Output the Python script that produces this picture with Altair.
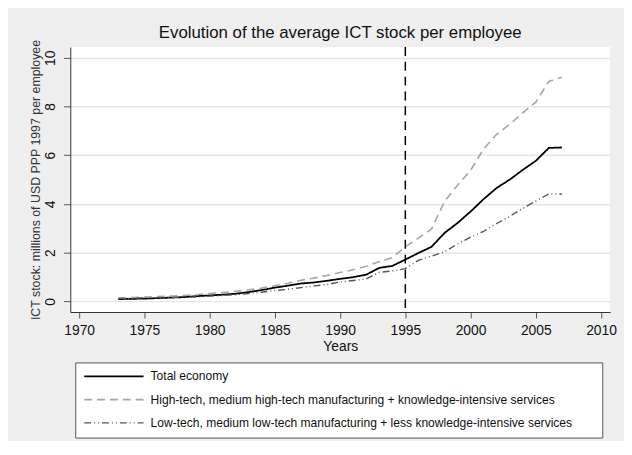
import altair as alt
import pandas as pd

years = list(range(1973, 2008))
total = [0.10, 0.11, 0.12, 0.14, 0.16, 0.18, 0.22, 0.25, 0.28, 0.32, 0.39, 0.47,
         0.57, 0.65, 0.74, 0.78, 0.85, 0.93, 1.00, 1.10, 1.38, 1.46, 1.72,
         1.99, 2.24, 2.81, 3.22, 3.69, 4.20, 4.66, 5.00, 5.40, 5.77, 6.30, 6.32]
high = [0.15, 0.16, 0.18, 0.20, 0.22, 0.25, 0.28, 0.33, 0.37, 0.42, 0.48, 0.55,
        0.65, 0.75, 0.87, 0.96, 1.07, 1.19, 1.30, 1.45, 1.63, 1.80, 2.25,
        2.60, 2.97, 4.10, 4.77, 5.38, 6.26, 6.86, 7.27, 7.74, 8.18, 9.03, 9.20]
low = [0.12, 0.13, 0.15, 0.16, 0.17, 0.17, 0.19, 0.22, 0.25, 0.28, 0.33, 0.38,
       0.45, 0.50, 0.57, 0.64, 0.70, 0.80, 0.86, 0.93, 1.20, 1.25, 1.35,
       1.69, 1.86, 2.04, 2.36, 2.64, 2.88, 3.20, 3.49, 3.82, 4.12, 4.41, 4.41]

series_names = [
    "Total economy",
    "High-tech, medium high-tech manufacturing + knowledge-intensive services",
    "Low-tech, medium low-tech manufacturing + less knowledge-intensive services",
]
x_ticks = [1970, 1975, 1980, 1985, 1990, 1995, 2000, 2005, 2010]
y_ticks = [0, 2, 4, 6, 8, 10]
break_year = [1995]

rows = []
for name, vals in zip(series_names, [total, high, low]):
    for yr, v in zip(years, vals):
        rows.append({"year": yr, "value": v, "series": name})
df = pd.DataFrame(rows)
rule_df = pd.DataFrame({"year": break_year})

FONT = "Liberation Sans"
xscale = alt.Scale(domain=[1969.32, 2010.7], nice=False, zero=False)
yscale = alt.Scale(domain=[-0.43, 10.44], nice=False, zero=False)

legend = alt.Legend(
    title="\u00a0", titleOrient="right", titlePadding=22, titleFontSize=12,
    orient="none", legendX=5, legendY=319, direction="vertical",
    symbolType="M-6,0H6", symbolSize=100, symbolStrokeWidth=1.5,
    symbolOffset=25, labelOffset=31,
    labelFontSize=12.2, labelFont=FONT,
    labelColor="#111111", fillColor="white", strokeColor="#555555",
    padding=8, rowPadding=10.5, labelLimit=600,
)

lines = alt.Chart(df).mark_line(clip=True).encode(
    x=alt.X("year:Q", scale=xscale,
            axis=alt.Axis(values=x_ticks, format="d", title="Years",
                          grid=False, tickSize=6, labelPadding=6,
                          titlePadding=2)),
    y=alt.Y("value:Q", scale=yscale,
            axis=alt.Axis(values=y_ticks, format="d",
                          title="ICT stock: millions of USD PPP 1997 per employee",
                          grid=True, tickSize=7, labelAngle=270,
                          labelAlign="center", labelBaseline="bottom",
                          labelPadding=6, titlePadding=1)),
    color=alt.Color("series:N", scale=alt.Scale(domain=series_names,
                    range=["#000000", "#a6a6a6", "#555555"]), legend=legend),
    strokeDash=alt.StrokeDash("series:N", scale=alt.Scale(domain=series_names,
                    range=[[1, 0], [8, 5], [7, 3, 1, 3, 1, 3]]), legend=legend),
    strokeWidth=alt.StrokeWidth("series:N", scale=alt.Scale(domain=series_names,
                    range=[1.8, 1.4, 1.4]), legend=None),
    order="year:Q",
)

rule = alt.Chart(rule_df).mark_rule(color="black", strokeDash=[9, 6],
                                    strokeWidth=1.5).encode(
    x=alt.X("year:Q", scale=xscale)
)

chart = alt.layer(rule, lines).properties(
    width=546, height=268,
    title=alt.TitleParams("Evolution of the average ICT stock per employee",
                          font=FONT, fontSize=17, fontWeight="normal",
                          color="#111111", anchor="middle", offset=3, dy=6),
    background="#efefef",
    padding={"left": 63, "top": 37, "right": 14, "bottom": 128},
    autosize=alt.AutoSizeParams(type="none"),
).configure_view(fill="white", stroke=None).configure_axis(
    labelFont=FONT, titleFont=FONT, labelFontSize=14, titleFontSize=14,
    labelColor="#111111", titleColor="#111111", titleFontWeight="normal",
    domainColor="#333333", tickColor="#555555", gridColor="#e6e6e6",
    gridWidth=1.5,
).configure_axisY(titleFontSize=12.5, titleColor="#333333")

chart.save("out.html", embed_options={"renderer": "svg", "actions": False})
